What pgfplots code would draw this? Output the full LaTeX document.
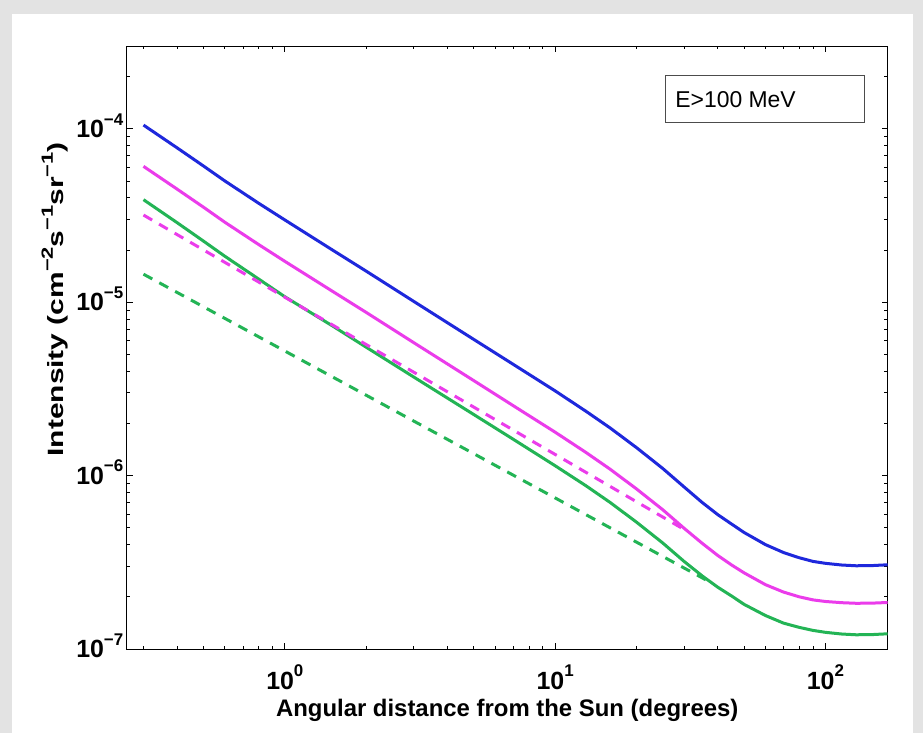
\documentclass[border=0pt]{standalone}
\usepackage{pgfplots}
\pgfplotsset{compat=1.18}
\usepackage{fontspec}
\setmainfont{Liberation Sans}
\definecolor{cblue}{RGB}{30,40,220}
\definecolor{cpink}{RGB}{235,60,235}
\definecolor{cgreen}{RGB}{35,180,85}
\newcommand\sups[1]{\raisebox{0.5em}{\fontsize{8.5}{8.5}\selectfont #1}}
\newcommand\ysups[1]{\raisebox{0.5em}{\fontsize{11}{11}\selectfont #1}}
\begin{document}
\begin{tikzpicture}
\fill[gray!22] (-63.35bp,-42bp) rectangle (398.15bp,324.5bp);
\fill[white] (-57.35bp,-42bp) rectangle (393.15bp,317.5bp);
\begin{axis}[
  at={(0,0)}, anchor=south west, scale only axis,
  width=380.5bp, height=301.5bp,
  xmode=log, ymode=log,
  xmin=0.26, xmax=170, ymin=1e-7, ymax=3e-4,
  xtick={1,10,100},
  xticklabels={10\sups{0},10\sups{1},10\sups{2}},
  minor xtick={0.3,0.4,0.5,0.6,0.7,0.8,0.9,2,3,4,5,6,7,8,9,20,30,40,50,60,70,80,90},
  ytick={1e-7,1e-6,1e-5,1e-4},
  yticklabels={10\sups{−7},10\sups{−6},10\sups{−5},10\sups{−4}},
  minor ytick={2e-7,3e-7,4e-7,5e-7,6e-7,7e-7,8e-7,9e-7,2e-6,3e-6,4e-6,5e-6,6e-6,7e-6,8e-6,9e-6,2e-5,3e-5,4e-5,5e-5,6e-5,7e-5,8e-5,9e-5,2e-4},
  major tick length=3bp, minor tick length=1.7bp,
  tick style={black, line width=0.4bp},
  axis line style={black, line width=0.5bp},
  xticklabel style={font=\fontsize{12.5}{12.5}\selectfont\bfseries, anchor=base, yshift=-20bp},
  yticklabel style={font=\fontsize{12.5}{12.5}\selectfont\bfseries, anchor=base east, yshift=-4.4bp, xshift=-0.5bp, inner sep=1bp},
  xlabel={Angular distance from the Sun (degrees)},
  xlabel style={font=\fontsize{12}{14}\selectfont\bfseries, at={(axis description cs:0.5,-0.1111)}, anchor=base},
  ylabel={\scalebox{1}[0.74]{Intensity (cm\ysups{−2}s\ysups{−1}sr\ysups{−1})}},
  ylabel style={font=\fontsize{15}{17}\selectfont\bfseries, at={(axis description cs:-0.0943,0.58)}, anchor=center},
]
\addplot[cblue, line width=1.5bp] coordinates {
(0.3,1.05e-4) (0.4,7.75e-5) (0.5,6.1e-5) (0.6,5.0e-5) (0.8,3.72e-5) (1,2.98e-5)
(1.5,2.0e-5) (2,1.51e-5) (3,1.01e-5) (5,6.1e-6) (7,4.38e-6) (10,3.08e-6)
(13,2.35e-6) (16,1.88e-6) (20,1.45e-6) (25,1.1e-6) (30,8.6e-7) (35,7.0e-7)
(40,5.95e-7) (45,5.25e-7) (50,4.7e-7) (60,4.0e-7) (70,3.6e-7) (80,3.36e-7)
(90,3.2e-7) (100,3.12e-7) (115,3.05e-7) (130,3.02e-7) (150,3.03e-7) (170,3.06e-7)};
\addplot[cpink, line width=1.5bp] coordinates {
(0.3,6.07e-5) (0.4,4.48e-5) (0.5,3.53e-5) (0.6,2.89e-5) (0.8,2.15e-5) (1,1.72e-5)
(1.5,1.156e-5) (2,8.73e-6) (3,5.84e-6) (5,3.53e-6) (7,2.53e-6) (10,1.78e-6)
(13,1.36e-6) (16,1.087e-6) (20,8.38e-7) (25,6.36e-7) (30,4.97e-7) (35,4.07e-7)
(40,3.46e-7) (45,3.05e-7) (50,2.75e-7) (60,2.35e-7) (70,2.13e-7) (80,2.0e-7)
(90,1.92e-7) (100,1.88e-7) (115,1.85e-7) (130,1.835e-7) (150,1.84e-7) (170,1.855e-7)};
\addplot[cgreen, line width=1.5bp] coordinates {
(0.3,3.9e-5) (0.4,2.87e-5) (0.5,2.25e-5) (0.6,1.84e-5) (0.8,1.36e-5) (1,1.075e-5)
(1.5,7.3e-6) (2,5.5e-6) (3,3.7e-6) (5,2.25e-6) (7,1.62e-6) (10,1.14e-6)
(13,8.74e-7) (16,6.99e-7) (20,5.39e-7) (25,4.09e-7) (30,3.2e-7) (35,2.64e-7)
(40,2.27e-7) (45,2.02e-7) (50,1.81e-7) (60,1.56e-7) (70,1.41e-7) (80,1.333e-7)
(90,1.28e-7) (100,1.248e-7) (115,1.22e-7) (130,1.208e-7) (150,1.212e-7) (170,1.224e-7)};
\addplot[cpink, line width=1.5bp, dash pattern=on 5bp off 4bp] coordinates {
(0.3,3.18e-5) (31,4.75e-7)};
\addplot[cgreen, line width=1.5bp, dash pattern=on 5bp off 4bp] coordinates {
(0.3,1.45e-5) (38,2.4e-7)};
\end{axis}
\draw[gray!60!black, line width=0.5bp, fill=white] (269.15bp,263bp) rectangle (368.65bp,286.5bp);
\node[anchor=west, inner sep=0pt, font=\fontsize{11.5}{12}\selectfont] at (274.15bp,274.75bp) {E>100 MeV};
\end{tikzpicture}
\end{document}
